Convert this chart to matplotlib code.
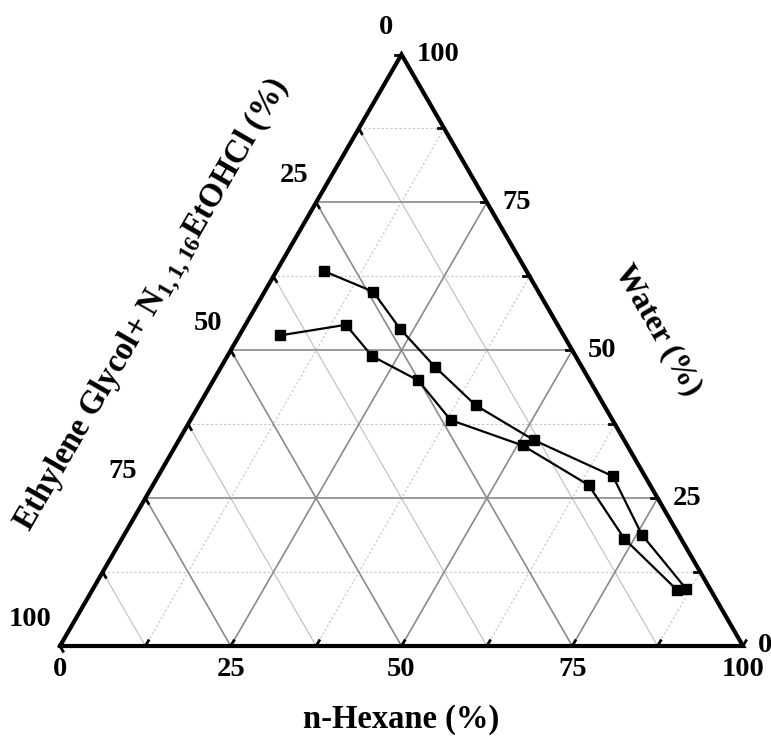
import matplotlib.pyplot as plt
import numpy as np

plt.rcParams['font.family'] = 'Liberation Serif'
plt.rcParams['font.weight'] = 'bold'
plt.rcParams['mathtext.fontset'] = 'custom'
plt.rcParams['mathtext.rm'] = 'Liberation Serif:bold'
plt.rcParams['mathtext.it'] = 'Liberation Serif:bold'
plt.rcParams['mathtext.bf'] = 'Liberation Serif:bold'

# binodal curves (mass %), the third component is 100 - hexane - water
hexane_1 = [6.9, 15.9, 23.0, 31.3, 40.5, 52.0, 66.6, 75.8, 86.8]
water_1 = [63.4, 59.9, 53.6, 47.2, 40.7, 34.8, 28.7, 18.8, 9.7]
hexane_2 = [5.9, 14.7, 21.2, 30.0, 38.1, 50.8, 63.8, 73.6, 85.7]
water_2 = [52.5, 54.3, 49.0, 44.9, 38.2, 33.9, 27.2, 18.1, 9.4]

major = [25, 50, 75]
minor = [12.5, 37.5, 62.5, 87.5]
tick_labels = [0, 25, 50, 75, 100]

S3 = np.sqrt(3) / 2


def tern(h, w):
    # hexane on the bottom axis, water on the right axis
    h = np.asarray(h, float)
    w = np.asarray(w, float)
    return h + w / 2, w * S3


fig = plt.figure(figsize=(7.71, 7.40), dpi=100)
ax = fig.add_axes([60 / 771, (740 - 646) / 740, 683 / 771, 591.5 / 740])
ax.set_xlim(0, 100)
ax.set_ylim(0, 100 * S3)
ax.axis('off')


def grid_line(kind, v, **kw):
    if kind == 'h':
        p = tern([v, v], [0, 100 - v])
    elif kind == 'w':
        p = tern([0, 100 - v], [v, v])
    else:
        p = tern([100 - v, 0], [0, 100 - v])
    ax.plot(p[0], p[1], zorder=1, **kw)


for v in minor:
    grid_line('e', v, color='#bdbdbd', lw=0.8)
    grid_line('h', v, color='#c4c4c4', lw=0.8, ls=(0, (2, 2)))
    grid_line('w', v, color='#c4c4c4', lw=0.8, ls=(0, (2, 2)))
for v in major:
    for k in 'hwe':
        grid_line(k, v, color='#8a8a8a', lw=1.2)

# triangle frame
fx, fy = tern([0, 100, 0, 0], [0, 0, 100, 0])
ax.plot(fx, fy, color='black', lw=3, solid_joinstyle='miter', zorder=3, clip_on=False)

# short inward ticks along each edge
tl = 0.9
for v in tick_labels + minor:
    x, y = tern(v, 0)
    ax.plot([x, x + tl * 0.5], [y, y + tl * S3], color='black', lw=2, zorder=3, clip_on=False)
    x, y = tern(100 - v, v)
    ax.plot([x, x - tl], [y, y], color='black', lw=2, zorder=3, clip_on=False)
    x, y = tern(0, 100 - v)
    ax.plot([x, x + tl * 0.5], [y, y - tl * S3], color='black', lw=2, zorder=3, clip_on=False)

# tick labels
for v in tick_labels:
    x, y = tern(v, 0)
    ax.text(x, y - 3.5, str(v), ha='center', va='center', fontsize=20.5, clip_on=False)
    x, y = tern(100 - v, v)
    ax.text(x + 2.2, y, str(v), ha='left', va='center', fontsize=20.5, clip_on=False)
    x, y = tern(0, 100 - v)
    ax.text(x - 1.2, y + 3.9, str(v), ha='right', va='center', fontsize=20.5, clip_on=False)

# data
x1, y1 = tern(hexane_1, water_1)
x2, y2 = tern(hexane_2, water_2)
ax.plot(x1, y1, '-s', color='black', lw=1.6, ms=7.5, zorder=4, clip_on=False)
ax.plot(x2, y2, '-s', color='black', lw=1.6, ms=7.5, zorder=4, clip_on=False)

# axis titles
ax.text(50, -10.8, 'n-Hexane (%)', ha='center', va='center', fontsize=23.5, clip_on=False)
ax.text(87.6, 46.3, 'Water (%)', ha='center', va='center', rotation=-60,
        rotation_mode='anchor', fontsize=23, clip_on=False)
ax.text(13.5, 50.0, r'Ethylene Glycol+ N$_{1,1,16}$EtOHCl (%)', ha='center', va='center',
        rotation=60, rotation_mode='anchor', fontsize=23.5, clip_on=False)

fig.savefig('out.png', dpi=100)
